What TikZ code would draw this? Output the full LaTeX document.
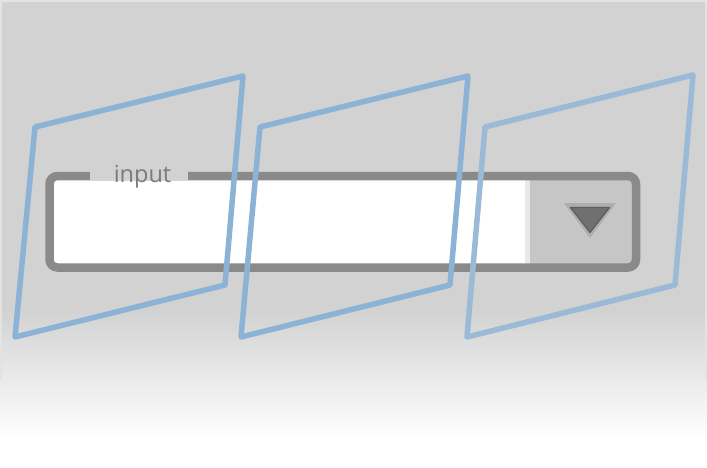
\documentclass[tikz,border=0pt]{standalone}
\usepackage{fontspec}
\setmainfont{Open Sans}
\begin{document}
\begin{tikzpicture}[x=1pt,y=-1pt]
\definecolor{bg}{HTML}{D2D2D2}
\definecolor{edgegray}{HTML}{E3E3E3}
\definecolor{boxgray}{HTML}{8A8A8A}
\definecolor{labelgray}{HTML}{7B7B7B}
\definecolor{ddgray}{HTML}{C6C6C6}
\definecolor{stripgray}{HTML}{E9E9E9}
\definecolor{halogray}{HTML}{ADADAD}
\definecolor{trigray}{HTML}{707070}
\definecolor{tridark}{HTML}{5C5C5C}
\definecolor{blueA}{HTML}{8CB3D6}
\definecolor{blueB}{HTML}{9BBAD8}
\tikzset{
  boxline/.style={draw=boxgray, line width=8.5pt, rounded corners=8pt},
  frame/.style={draw=blueA, line width=5.5pt, line join=round},
  labeltext/.style={text=labelgray, font=\fontsize{23.5}{28}\selectfont, inner sep=0pt, anchor=base}
}
\useasboundingbox (0,0) rectangle (707,467);
% background
\fill[white] (0,0) rectangle (707,467);
\fill[bg] (0,0) rectangle (707,311);
\foreach \i in {0,...,64} {
  \pgfmathsetmacro\p{100*(\i+0.5)/65}
  \fill[white!\p!bg] (0,310+2*\i) rectangle (707,312.5+2*\i);
}
\draw[edgegray, line width=2pt] (1,380) -- (1,1) -- (706,1) -- (706,380);
% input box
\fill[white, rounded corners=8pt] (49.5,176) rectangle (636,267.5);
\fill[ddgray] (530,178) rectangle (634,266);
\fill[stripgray] (525,178) rectangle (530,266);
\draw[boxline] (49.5,176) rectangle (636,267.5);
\fill[bg] (90,170) rectangle (188,180.3);
\node[labeltext] (label) at (142.5,182) {input};
% dropdown arrow
\fill[halogray] (564,203) -- (616,203) -- (590,238) -- cycle;
\filldraw[fill=trigray, draw=tridark, line width=1.2pt, line join=round] (570.5,207.5) -- (609.5,207.5) -- (590,232.5) -- cycle;
% frames
\draw[frame] (35,127) -- (243,76) -- (225,285) -- (15,337) -- cycle;
\draw[frame] (260,127) -- (468,76) -- (450,285) -- (241,337) -- cycle;
\draw[frame, draw=blueB] (485,127) -- (693,75) -- (675,285) -- (467,337) -- cycle;
\end{tikzpicture}
\end{document}
